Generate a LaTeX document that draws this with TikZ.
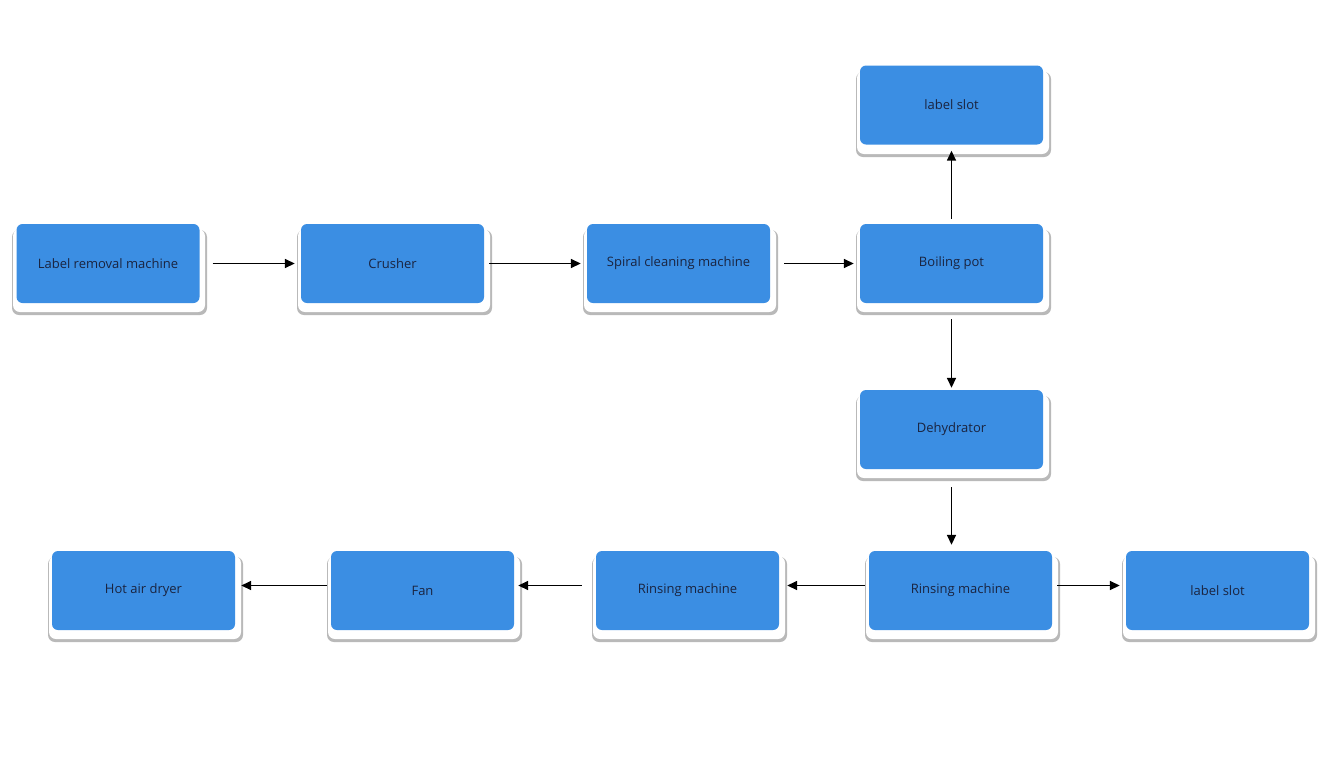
\documentclass[tikz,border=0pt]{standalone}
\usepackage{fontspec}
\setmainfont{Open Sans}
\usetikzlibrary{arrows.meta}
\definecolor{boxblue}{HTML}{3B8EE3}
\definecolor{txt}{HTML}{1A2440}
\begin{document}
\begin{tikzpicture}[x=1pt,y=-1pt,
  box/.style={draw=none,fill=boxblue,rounded corners=6pt,minimum width=183pt,minimum height=79pt,text=txt,font=\fontsize{13}{15}\selectfont,inner sep=0pt},
  arr/.style={-{Triangle[length=10pt,width=9pt]},line width=1.6pt,black}]
\useasboundingbox (0,0) rectangle (1341,769);
\fill[white] (0,0) rectangle (1341,769);
\def\card#1#2{%
  \fill[gray!55,rounded corners=7pt] (#1-4,#2+6) rectangle (#1+191,#2+91);
  \fill[white,rounded corners=7pt] (#1-3,#2+5) rectangle (#1+189,#2+88);}
\foreach \x/\y in {16/224,301/224,587/224,860/224,860/66,860/390,869/551,1126/551,596/551,331/551,52/551}{\card{\x}{\y}}
\node[box] (lr) at (108,263.5) {Label removal machine};
\node[box] (cr) at (392.5,263.5) {Crusher};
\node[box] (sc) at (678.5,263.5) {Spiral cleaning machine};
\node[box] (bp) at (951.5,263.5) {Boiling pot};
\node[box] (ls1) at (951.5,105) {label slot};
\node[box] (de) at (951.5,429.5) {Dehydrator};
\node[box] (r1) at (960.5,590.5) {Rinsing machine};
\node[box] (ls2) at (1217.5,590.5) {label slot};
\node[box] (r2) at (687.5,590.5) {Rinsing machine};
\node[box] (fan) at (422.5,590.5) {Fan};
\node[box] (hd) at (143.5,590.5) {Hot air dryer};
\draw[arr,shorten <=13pt,shorten >=6pt] (lr.east) -- (cr.west);
\draw[arr,shorten <=5pt,shorten >=6pt] (cr.east) -- (sc.west);
\draw[arr,shorten <=14pt,shorten >=6pt] (sc.east) -- (bp.west);
\draw[arr,shorten <=5pt,shorten >=6pt] (bp.north) -- (ls1.south);
\draw[arr,shorten <=16pt,shorten >=2pt] (bp.south) -- (de.north);
\draw[arr,shorten <=18pt,shorten >=6pt] (de.south) -- (de.south |- r1.north);
\draw[arr,shorten <=5pt,shorten >=6pt] ([yshift=5pt]r1.east) -- ([yshift=5pt]ls2.west);
\draw[arr,shorten <=4pt,shorten >=8pt] ([yshift=5pt]r1.west) -- ([yshift=5pt]r2.east);
\draw[arr,shorten <=14pt,shorten >=4pt] ([yshift=5pt]r2.west) -- ([yshift=5pt]fan.east);
\draw[arr,shorten <=4pt,shorten >=6pt] ([yshift=5pt]fan.west) -- ([yshift=5pt]hd.east);
\end{tikzpicture}
\end{document}
